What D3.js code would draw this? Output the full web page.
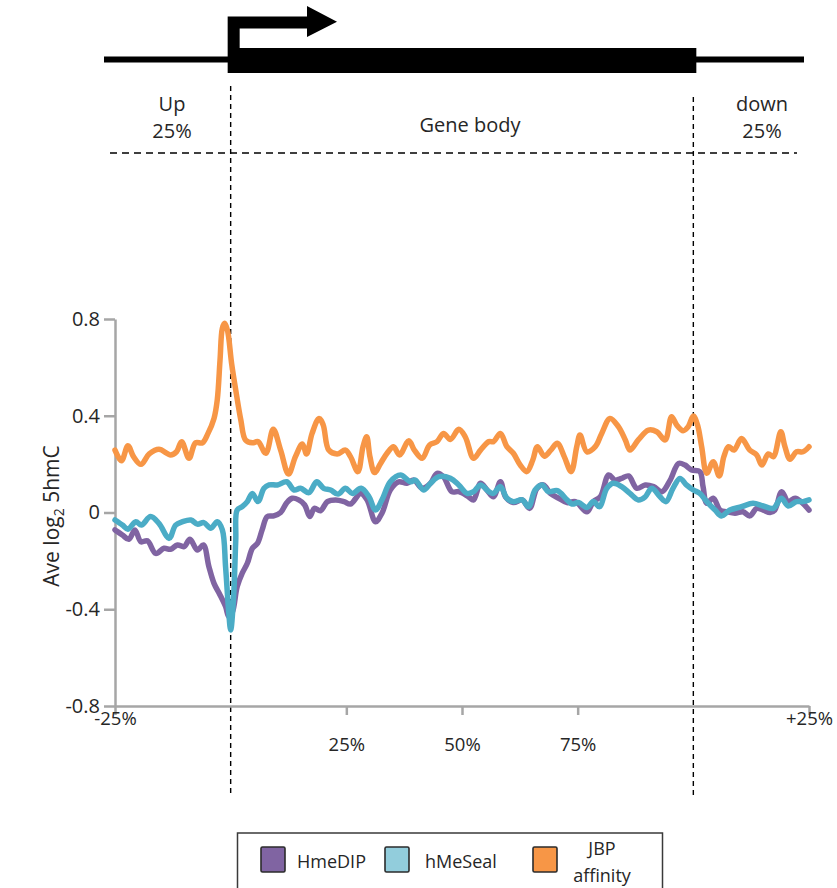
<!DOCTYPE html>
<html>
<head>
<meta charset="utf-8">
<script src="https://cdn.jsdelivr.net/npm/d3@7"></script>
<style>
  html, body { margin: 0; padding: 0; background: #ffffff; }
  svg { display: block; font-family: "Open Sans", sans-serif; }
</style>
</head>
<body>
<svg id="chart" width="837" height="888"></svg>
<script>
// Series names and colours
const seriesNames = ["HmeDIP", "hMeSeal", "JBP affinity"];
const lineColors = ["#8064A2", "#4BACC6", "#F79646"];
const swatchColors = ["#8064A2", "#92CDDC", "#F79646"];

// Axis ticks (x in percent of the metagene: -25..0 upstream, 0..100 body, 100..125 downstream)
const yTicks = [-0.8, -0.4, 0, 0.4, 0.8];
const yTickLabels = ["-0.8", "-0.4", "0", "0.4", "0.8"];
const xTicks = [-25, 25, 50, 75, 125];
const xTickLabels = ["-25%", "25%", "50%", "75%", "+25%"];

// Average log2 5hmC profiles: [position %, value]
const hmedip = [[-25,-0.072],[-23.4,-0.093],[-22.0,-0.111],[-20.7,-0.072],[-19.4,-0.121],[-18.0,-0.117],[-16.2,-0.169],[-14.4,-0.148],[-13.0,-0.152],[-11.5,-0.134],[-10.1,-0.141],[-8.8,-0.111],[-7.2,-0.155],[-5.9,-0.134],[-4.7,-0.224],[-3.6,-0.293],[-2.3,-0.341],[-1.1,-0.389],[-0.4,-0.431],[0.4,-0.41],[1.4,-0.307],[2.5,-0.251],[3.6,-0.21],[4.7,-0.148],[5.8,-0.127],[6.8,-0.072],[7.9,-0.017],[9.3,-0.014],[10.8,0.0],[12.1,0.04],[13.3,0.059],[14.7,0.052],[16.0,0.031],[17.1,-0.017],[18.1,0.017],[19.4,0.007],[20.9,0.045],[22.7,0.052],[24.5,0.045],[25.9,0.035],[28.1,0.079],[29.5,0.052],[31.3,-0.038],[32.7,-0.003],[34.5,0.093],[36.3,0.127],[38.1,0.121],[39.6,0.134],[41.4,0.10],[43.2,0.121],[44.6,0.162],[46.0,0.148],[47.8,0.086],[49.3,0.086],[51.4,0.065],[52.5,0.052],[54.0,0.121],[55.4,0.093],[56.8,0.065],[58.3,0.127],[59.4,0.065],[61.1,0.041],[63.0,0.052],[64.6,0.017],[66.2,0.10],[67.6,0.114],[69.1,0.079],[70.9,0.059],[72.7,0.041],[74.5,0.045],[77.0,0.003],[78.4,0.045],[79.9,0.065],[81.7,0.155],[83.1,0.134],[84.5,0.141],[86.0,0.151],[87.8,0.10],[89.6,0.114],[91.4,0.107],[93.2,0.086],[95.0,0.134],[96.8,0.203],[98.2,0.196],[99.6,0.176],[101.4,0.169],[102.1,0.107],[102.9,0.038],[104.3,0.059],[105.8,0.01],[107.2,0.003],[109.0,-0.003],[110.7,0.003],[112.2,-0.014],[113.7,0.017],[115.1,0.01],[116.6,0.0],[117.6,0.01],[119.1,0.086],[120.5,0.045],[122.0,0.059],[123.5,0.041],[125,0.01]];

const hmeseal = [[-25,-0.031],[-23.4,-0.052],[-22.2,-0.069],[-20.5,-0.038],[-19.3,-0.052],[-17.3,-0.017],[-15.5,-0.045],[-13.3,-0.107],[-11.9,-0.052],[-10.4,-0.038],[-8.6,-0.031],[-7.2,-0.048],[-5.8,-0.042],[-4.3,-0.065],[-2.9,-0.038],[-1.8,-0.072],[-1.1,-0.224],[-0.4,-0.417],[0.0,-0.486],[0.6,-0.362],[1.1,-0.114],[1.4,0.01],[2.5,0.024],[3.6,0.045],[4.7,0.079],[5.9,0.045],[7.2,0.10],[8.3,0.114],[10.1,0.114],[12.1,0.127],[13.7,0.093],[15.1,0.10],[16.9,0.082],[18.6,0.127],[20.1,0.10],[21.6,0.093],[23.2,0.076],[24.8,0.10],[26.3,0.079],[28.2,0.10],[29.9,0.065],[31.3,0.01],[32.7,0.052],[34.5,0.127],[36.7,0.155],[38.9,0.127],[39.9,0.134],[41.7,0.093],[43.2,0.121],[45.0,0.148],[47.5,0.141],[49.3,0.114],[51.1,0.079],[52.5,0.086],[54.0,0.114],[55.8,0.086],[56.8,0.079],[58.3,0.107],[59.7,0.059],[61.1,0.045],[63.0,0.052],[64.4,0.024],[65.8,0.093],[67.3,0.114],[68.7,0.086],[70.6,0.09],[72.7,0.052],[73.8,0.035],[75.2,0.041],[77.0,0.021],[78.4,0.045],[79.7,0.024],[81.3,0.10],[82.7,0.121],[84.5,0.107],[86.3,0.079],[88.1,0.052],[89.6,0.065],[91.0,0.10],[92.8,0.065],[94.1,0.045],[95.6,0.10],[97.1,0.141],[98.5,0.114],[100.0,0.093],[101.4,0.079],[102.9,0.045],[104.7,0.01],[106.1,-0.014],[107.9,0.01],[110.4,0.024],[112.9,0.038],[115.1,0.027],[117.3,0.017],[119.0,0.059],[120.5,0.027],[122.3,0.045],[123.7,0.045],[125,0.052]];

const jbp = [[-25,0.258],[-23.6,0.214],[-22.2,0.276],[-21.0,0.231],[-19.4,0.199],[-17.6,0.242],[-15.5,0.261],[-13.0,0.238],[-11.7,0.251],[-10.6,0.293],[-9.0,0.224],[-7.6,0.288],[-6.1,0.288],[-4.9,0.327],[-3.6,0.389],[-2.9,0.465],[-2.3,0.63],[-1.8,0.761],[-1.3,0.782],[-0.7,0.754],[0.2,0.617],[1.1,0.506],[2.2,0.382],[3.2,0.30],[4.7,0.288],[5.9,0.293],[7.6,0.245],[9.2,0.344],[10.8,0.258],[12.5,0.159],[14.0,0.231],[15.5,0.283],[16.4,0.242],[17.6,0.327],[19.1,0.389],[20.0,0.362],[21.2,0.258],[23.0,0.242],[24.8,0.258],[25.9,0.231],[27.5,0.169],[28.6,0.272],[29.4,0.313],[30.1,0.231],[31.1,0.165],[32.4,0.203],[33.8,0.245],[35.2,0.272],[36.5,0.238],[38.5,0.297],[39.7,0.258],[41.4,0.224],[43.0,0.279],[44.6,0.293],[46.0,0.327],[47.5,0.302],[49.3,0.344],[50.7,0.313],[52.5,0.224],[54.0,0.258],[55.8,0.293],[56.8,0.293],[58.3,0.327],[59.7,0.272],[61.1,0.245],[62.6,0.196],[64.0,0.169],[65.3,0.217],[66.3,0.272],[67.8,0.233],[69.2,0.258],[70.6,0.286],[72.1,0.231],[73.6,0.169],[74.8,0.272],[75.5,0.32],[77.0,0.251],[78.8,0.272],[80.2,0.327],[82.0,0.389],[83.8,0.355],[85.3,0.30],[86.3,0.258],[88.1,0.30],[90.3,0.341],[92.1,0.334],[93.9,0.30],[95.3,0.396],[96.4,0.362],[97.8,0.338],[98.9,0.355],[100.0,0.399],[100.9,0.362],[101.8,0.272],[102.9,0.162],[104.3,0.21],[105.6,0.151],[106.6,0.231],[107.6,0.272],[108.8,0.258],[110.4,0.306],[112.2,0.258],[113.7,0.238],[114.8,0.196],[116.2,0.242],[117.3,0.231],[118.9,0.334],[119.8,0.272],[120.9,0.22],[122.3,0.251],[123.7,0.251],[125,0.272]];

const seriesData = [hmedip, hmeseal, jbp];

const svg = d3.select("#chart");
const textColor = "#262626";
const axisColor = "#a6a6a6";

const x = d3.scaleLinear().domain([-25, 125]).range([115, 809]);
const y = d3.scaleLinear().domain([-0.8, 0.8]).range([706, 319]);

// ---------- Gene model ----------
const gene = svg.append("g");
gene.append("line")
  .attr("x1", 104).attr("x2", 804).attr("y1", 59.5).attr("y2", 59.5)
  .attr("stroke", "#000").attr("stroke-width", 6);
gene.append("rect")
  .attr("x", x(0) - 3).attr("y", 48)
  .attr("width", x(100) - x(0) + 6).attr("height", 25)
  .attr("fill", "#000");
// Transcription start arrow
const ax0 = x(0) - 3;
gene.append("path")
  .attr("d", `M${ax0},48 V16.5 H307 V6 L337,21.7 L307,37 V28.5 H${ax0 + 12} V48 Z`)
  .attr("fill", "#000");

// ---------- Region labels and dashed guides ----------
const regionText = [
  { lines: ["Up", "25%"], cx: 172 },
  { lines: ["Gene body"], cx: 470, y0: 132 },
  { lines: ["down", "25%"], cx: 762 }
];
regionText.forEach(r => {
  r.lines.forEach((t, i) => {
    svg.append("text")
      .attr("x", r.cx)
      .attr("y", r.y0 !== undefined ? r.y0 : 111 + i * 27)
      .attr("text-anchor", "middle")
      .attr("font-size", 20)
      .attr("fill", textColor)
      .text(t);
  });
});

svg.append("line")
  .attr("x1", 110).attr("x2", 797).attr("y1", 153).attr("y2", 153)
  .attr("stroke", "#000").attr("stroke-width", 1.4)
  .attr("stroke-dasharray", "7,5");
svg.append("line")
  .attr("x1", x(0)).attr("x2", x(0)).attr("y1", 86).attr("y2", 797)
  .attr("stroke", "#000").attr("stroke-width", 1.4)
  .attr("stroke-dasharray", "5,4");
svg.append("line")
  .attr("x1", x(100)).attr("x2", x(100)).attr("y1", 97).attr("y2", 797)
  .attr("stroke", "#000").attr("stroke-width", 1.4)
  .attr("stroke-dasharray", "5,4");

// ---------- Axes ----------
const yAxis = svg.append("g")
  .attr("transform", `translate(${x(-25)},0)`)
  .call(d3.axisLeft(y).tickValues(yTicks)
    .tickFormat((d, i) => yTickLabels[i])
    .tickSize(11).tickSizeOuter(0).tickPadding(4));
yAxis.select(".domain").attr("stroke", axisColor).attr("stroke-width", 2.5);
yAxis.selectAll(".tick line").attr("stroke", axisColor).attr("stroke-width", 2.5);
yAxis.selectAll(".tick text")
  .attr("font-size", 20).attr("fill", textColor)
  .attr("font-family", "Open Sans, sans-serif");

const xAxis = svg.append("g")
  .attr("transform", `translate(0,${y(-0.8)})`)
  .call(d3.axisBottom(x).tickValues(xTicks)
    .tickFormat((d, i) => xTickLabels[i])
    .tickSize(9).tickSizeOuter(0).tickPadding(4));
xAxis.select(".domain").attr("stroke", axisColor).attr("stroke-width", 2.5);
xAxis.selectAll(".tick line").attr("stroke", axisColor).attr("stroke-width", 2.5);
xAxis.selectAll(".tick text")
  .attr("font-size", 18.5).attr("fill", textColor)
  .attr("font-family", "Open Sans, sans-serif")
  .attr("dy", null)
  .attr("y", d => (d === -25 || d === 125) ? 19 : 45);

// Y-axis title
const yTitle = svg.append("text")
  .attr("transform", `translate(59,516) rotate(-90)`)
  .attr("text-anchor", "middle")
  .attr("font-size", 21)
  .attr("fill", textColor);
yTitle.append("tspan").text("Ave log");
yTitle.append("tspan").attr("font-size", 14).attr("dy", 5).text("2");
yTitle.append("tspan").attr("dy", -5).text(" 5hmC");

// ---------- Profile lines ----------
const line = d3.line()
  .x(d => x(d[0]))
  .y(d => y(d[1]))
  .curve(d3.curveCatmullRom.alpha(0.5));

const drawOrder = [2, 0, 1];
drawOrder.forEach(i => {
  svg.append("path")
    .datum(seriesData[i])
    .attr("d", line)
    .attr("fill", "none")
    .attr("stroke", lineColors[i])
    .attr("stroke-width", 5.5)
    .attr("stroke-linejoin", "round")
    .attr("stroke-linecap", "round");
});

// ---------- Legend ----------
const legend = svg.append("g");
legend.append("rect")
  .attr("x", 237.5).attr("y", 833)
  .attr("width", 425).attr("height", 70)
  .attr("fill", "#fff").attr("stroke", "#3a3a3a").attr("stroke-width", 1.5);

const legendItems = [
  { sx: 261, tx: 297, lines: ["HmeDIP"], anchor: "start" },
  { sx: 385, tx: 425, lines: ["hMeSeal"], anchor: "start" },
  { sx: 533, tx: 602, lines: ["JBP", "affinity"], anchor: "middle" }
];
legendItems.forEach((it, i) => {
  legend.append("rect")
    .attr("x", it.sx).attr("y", 847)
    .attr("width", 24).attr("height", 25).attr("rx", 1.5)
    .attr("fill", swatchColors[i])
    .attr("stroke", "#2b2b2b").attr("stroke-width", 1.6);
  if (it.lines.length === 1) {
    legend.append("text")
      .attr("x", it.tx).attr("y", 868)
      .attr("text-anchor", it.anchor)
      .attr("font-size", 18).attr("fill", textColor)
      .text(it.lines[0]);
  } else {
    it.lines.forEach((t, k) => {
      legend.append("text")
        .attr("x", it.tx).attr("y", 855 + k * 27)
        .attr("text-anchor", it.anchor)
        .attr("font-size", 18).attr("fill", textColor)
        .text(t);
    });
  }
});
</script>
</body>
</html>
